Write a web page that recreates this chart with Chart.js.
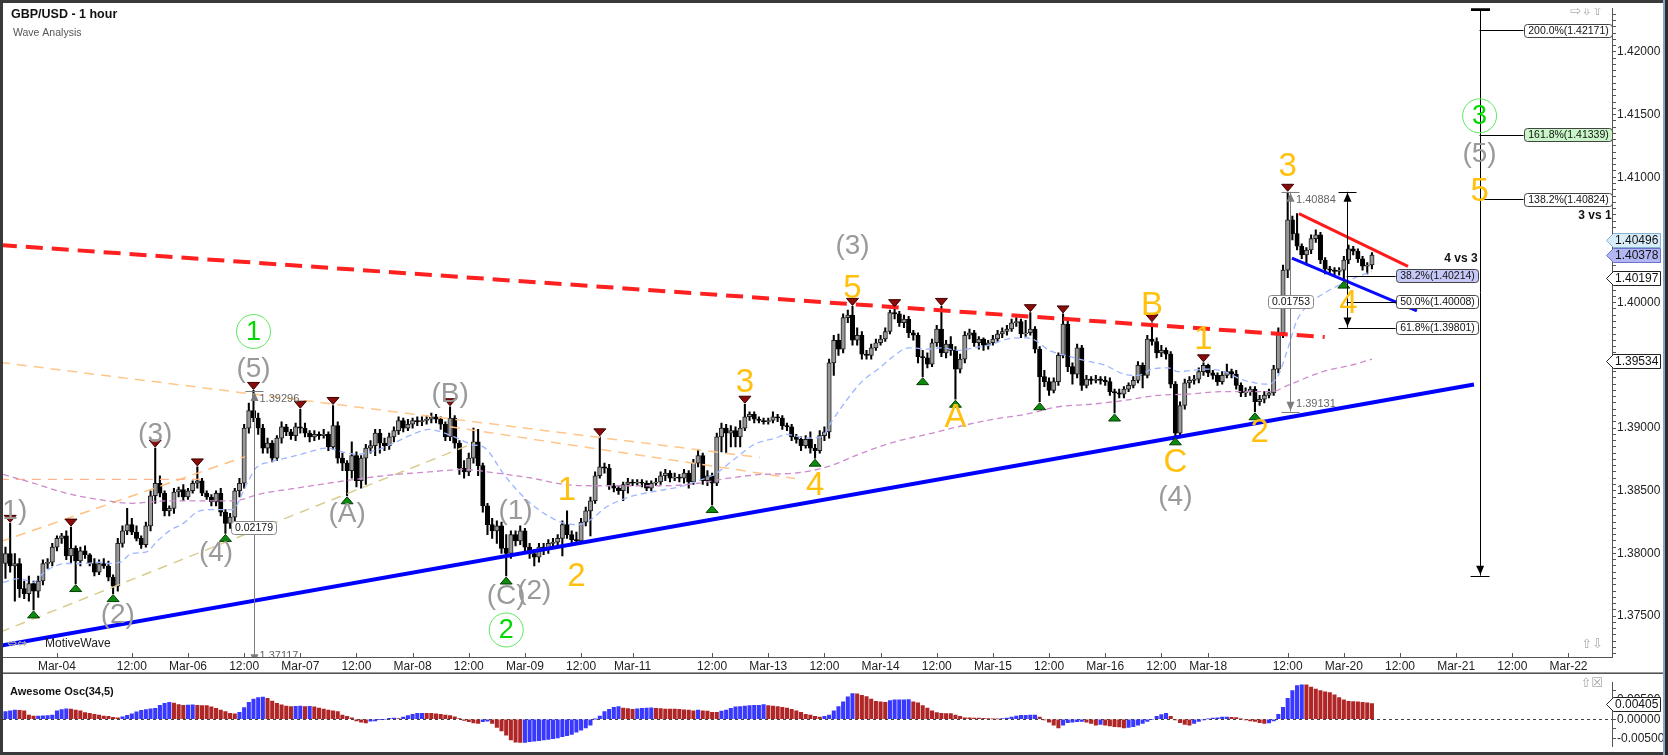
<!DOCTYPE html>
<html>
<head>
<meta charset="utf-8">
<title>GBP/USD - 1 hour</title>
<script src="https://cdn.jsdelivr.net/npm/chart.js@4.4.1/dist/chart.umd.min.js"></script>
<style>
  body { margin: 0; background: #fff; }
  #wrap { position: relative; width: 1668px; height: 755px; overflow: hidden; background: #fff; }
  canvas { position: absolute; left: 0; }
  #main { top: 0; }
  #osc { top: 674px; }
</style>
</head>
<body>
<div id="wrap">
  <canvas id="main" width="1668" height="674"></canvas>
  <canvas id="osc" width="1668" height="81"></canvas>
</div>
<script>
const FONT = 'Arial, "Liberation Sans", sans-serif';

// hourly candles [open, high, low, close], prices in 1/10000 (13792 = 1.3792)
const ohlc = [
  [13792,13805,13780,13800],[13800,13824,13785,13790],[13790,13800,13762,13792],[13792,13796,13765,13772],[13772,13778,13764,13768],
  [13768,13782,13762,13776],[13776,13778,13755,13770],[13770,13782,13765,13778],[13778,13795,13775,13792],[13792,13796,13788,13793],
  // 10
  [13793,13808,13790,13805],[13805,13814,13802,13812],[13812,13816,13808,13814],[13814,13818,13795,13798],[13798,13821,13792,13804],
  [13804,13806,13776,13794],[13794,13805,13790,13802],[13802,13806,13796,13799],[13799,13800,13790,13792],[13792,13796,13782,13785],
  // 20
  [13785,13795,13783,13792],[13792,13796,13788,13790],[13790,13794,13778,13781],[13781,13783,13768,13774],[13774,13812,13770,13808],
  [13808,13822,13805,13818],[13818,13836,13815,13823],[13823,13828,13815,13817],[13817,13822,13810,13812],[13812,13814,13804,13807],
  // 30
  [13807,13825,13805,13822],[13822,13850,13818,13846],[13846,13884,13840,13856],[13856,13862,13845,13848],[13848,13850,13830,13834],
  [13834,13838,13830,13836],[13836,13852,13832,13849],[13849,13853,13845,13851],[13851,13855,13842,13845],[13845,13852,13843,13850],
  // 40
  [13850,13858,13848,13856],[13856,13869,13852,13858],[13858,13860,13846,13848],[13848,13850,13843,13845],[13845,13847,13838,13841],
  [13841,13850,13838,13848],[13848,13852,13830,13833],[13833,13835,13816,13824],[13824,13832,13820,13829],[13829,13852,13826,13850],
  // 50
  [13850,13860,13845,13856],[13856,13903,13852,13900],[13900,13920,13896,13914],[13914,13930,13905,13908],[13908,13912,13895,13900],
  [13900,13903,13880,13884],[13884,13892,13880,13888],[13888,13890,13873,13876],[13876,13894,13874,13892],[13892,13905,13888,13901],
  // 60
  [13901,13903,13894,13897],[13897,13899,13891,13894],[13894,13904,13890,13901],[13901,13915,13896,13900],[13900,13904,13893,13896],
  [13896,13898,13889,13893],[13893,13898,13890,13895],[13895,13897,13891,13894],[13894,13899,13892,13895],[13895,13897,13882,13885],
  // 70
  [13885,13918,13883,13902],[13902,13905,13872,13876],[13876,13880,13866,13872],[13872,13874,13846,13866],[13866,13889,13860,13878],
  [13878,13881,13853,13858],[13858,13878,13852,13876],[13876,13887,13855,13884],[13884,13890,13880,13886],[13886,13899,13878,13896],
  // 80
  [13896,13899,13880,13888],[13888,13892,13882,13886],[13886,13896,13883,13893],[13893,13901,13889,13898],[13898,13909,13895,13906],
  [13906,13908,13897,13900],[13900,13907,13898,13903],[13903,13908,13900,13906],[13906,13909,13902,13905],[13905,13909,13902,13906],
  // 90
  [13906,13910,13903,13907],[13907,13912,13904,13909],[13909,13911,13904,13907],[13907,13909,13899,13903],[13903,13905,13890,13893],
  [13893,13917,13890,13908],[13908,13910,13884,13888],[13888,13890,13863,13868],[13868,13874,13860,13865],[13865,13880,13862,13876],
  // 100
  [13876,13900,13872,13889],[13889,13899,13862,13870],[13870,13872,13833,13838],[13838,13840,13815,13823],[13823,13828,13812,13818],
  [13818,13826,13808,13822],[13822,13825,13800,13804],[13804,13815,13782,13800],[13800,13818,13796,13815],[13815,13818,13806,13810],
  // 110
  [13810,13822,13807,13818],[13818,13820,13802,13805],[13805,13808,13796,13800],[13800,13803,13790,13797],[13797,13808,13793,13805],
  [13805,13808,13799,13803],[13803,13811,13800,13808],[13808,13812,13804,13809],[13809,13815,13806,13812],[13812,13826,13798,13823],
  // 120
  [13823,13834,13812,13815],[13815,13818,13808,13811],[13811,13817,13808,13810],[13810,13828,13808,13825],[13825,13837,13822,13834],
  [13834,13845,13814,13842],[13842,13865,13840,13862],[13862,13893,13860,13869],[13869,13872,13864,13868],[13868,13871,13851,13854],
  // 130
  [13854,13856,13849,13852],[13852,13854,13847,13850],[13850,13857,13842,13855],[13855,13860,13848,13857],[13857,13859,13854,13856],
  [13856,13859,13854,13857],[13857,13859,13853,13856],[13856,13858,13850,13852],[13852,13858,13850,13856],[13856,13860,13854,13857],
  // 140
  [13857,13865,13855,13862],[13862,13867,13858,13864],[13864,13866,13857,13860],[13860,13864,13858,13861],[13861,13863,13857,13860],
  [13860,13867,13856,13864],[13864,13866,13852,13857],[13857,13875,13855,13872],[13872,13883,13869,13878],[13878,13880,13855,13858],
  // 150
  [13858,13866,13854,13862],[13862,13864,13839,13856],[13856,13896,13854,13893],[13893,13904,13881,13900],[13900,13903,13880,13896],
  [13896,13902,13885,13898],[13898,13901,13885,13893],[13893,13906,13885,13900],[13900,13919,13898,13909],[13909,13913,13906,13911],
  // 160
  [13911,13913,13904,13907],[13907,13909,13904,13906],[13906,13908,13903,13905],[13905,13908,13903,13906],[13906,13913,13904,13909],
  [13909,13911,13905,13908],[13908,13910,13899,13902],[13902,13904,13898,13901],[13901,13903,13890,13893],[13893,13895,13888,13891],
  // 170
  [13891,13893,13882,13886],[13886,13894,13884,13891],[13891,13897,13880,13884],[13884,13887,13876,13882],[13882,13898,13880,13894],
  [13894,13901,13890,13897],[13897,13955,13892,13952],[13952,13974,13942,13970],[13970,13975,13958,13963],[13963,13991,13960,13988],
  // 180
  [13988,13994,13984,13990],[13990,13997,13966,13970],[13970,13980,13966,13974],[13974,13977,13955,13959],[13959,13962,13955,13958],
  [13958,13967,13955,13964],[13964,13971,13962,13968],[13968,13974,13966,13971],[13971,13980,13969,13977],[13977,13994,13975,13992],
  // 190
  [13992,13996,13987,13991],[13991,13993,13981,13984],[13984,13990,13980,13987],[13987,13989,13972,13976],[13976,13978,13970,13974],
  [13974,13976,13952,13957],[13957,13962,13941,13956],[13956,13960,13948,13951],[13951,13971,13949,13968],[13968,13982,13965,13979],
  // 200
  [13979,13997,13957,13960],[13960,13970,13956,13967],[13967,13973,13958,13962],[13962,13965,13923,13947],[13947,13959,13944,13955],
  [13955,13977,13952,13974],[13974,13979,13971,13976],[13976,13978,13965,13968],[13968,13973,13963,13971],[13971,13972,13962,13966],
  // 210
  [13966,13970,13963,13968],[13968,13974,13966,13971],[13971,13978,13969,13975],[13975,13980,13972,13977],[13977,13982,13974,13979],
  [13979,13987,13977,13984],[13984,13988,13981,13985],[13985,13987,13972,13975],[13975,13986,13973,13976],[13976,13992,13974,13979],
  // 220
  [13979,13981,13960,13963],[13963,13965,13921,13941],[13941,13946,13933,13937],[13937,13940,13926,13930],[13930,13940,13928,13937],
  [13937,13960,13934,13958],[13958,13991,13956,13983],[13983,13986,13945,13949],[13949,13952,13935,13943],[13943,13967,13940,13964],
  // 230
  [13964,13966,13930,13934],[13934,13942,13932,13939],[13939,13941,13935,13938],[13938,13942,13936,13939],[13939,13941,13935,13938],
  [13938,13941,13934,13937],[13937,13940,13926,13929],[13929,13931,13912,13928],[13928,13931,13924,13927],[13927,13933,13924,13931],
  // 240
  [13931,13936,13929,13934],[13934,13941,13932,13938],[13938,13953,13936,13950],[13950,13952,13932,13942],[13942,13974,13940,13971],
  [13971,13984,13966,13969],[13969,13972,13956,13960],[13960,13966,13957,13962],[13962,13964,13955,13959],[13959,13961,13932,13935],
  // 250
  [13935,13937,13893,13896],[13896,13921,13894,13918],[13918,13939,13915,13936],[13936,13941,13932,13938],[13938,13942,13935,13939],
  [13939,13948,13936,13945],[13945,13952,13942,13950],[13950,13951,13941,13944],[13944,13946,13939,13942],[13942,13944,13934,13937],
  // 260
  [13937,13945,13935,13942],[13942,13951,13940,13945],[13945,13947,13940,13943],[13943,13946,13931,13934],[13934,13936,13925,13928],
  [13928,13932,13925,13929],[13929,13933,13926,13931],[13931,13933,13913,13921],[13921,13926,13918,13923],[13923,13929,13920,13926],
  // 270
  [13926,13931,13924,13928],[13928,13950,13926,13947],[13947,13980,13944,13976],[13976,14030,13972,14026],[14026,14088,14020,14066],
  [14066,14069,14050,14055],[14055,14071,14042,14045],[14045,14047,14035,14038],[14038,14044,14030,14042],[14042,14054,14039,14051],
  // 280
  [14051,14058,14048,14054],[14054,14056,14031,14034],[14034,14036,14023,14027],[14027,14029,14023,14026],[14026,14028,14022,14025],
  [14025,14028,14022,14026],[14026,14037,14018,14034],[14034,14046,14031,14043],[14043,14045,14038,14041],[14041,14043,14032,14035],
  // 290
  [14035,14037,14026,14029],[14029,14032,14023,14030],[14030,14040,14027,14038]
];

// Awesome Osc(34,5), one value per candle, in 1/10000
const aoValues = [
  20,22,24,23,22,11,8,8.5,9,9.5,
  11,22,25,27,26,24,22,17,15,13,
  11,8.5,7.5,5,4,6.5,10,14,19,23,
  25,27,28,36,41,44,42,38,36,36.5,
  37,36,35.5,35,32,28,24,20,15,14,
  18,30,44,52,56,57,54,47,41,37,
  34,33,33.5,34,33,33.5,32,29,26,24,
  22,20,11,7.5,4,-4,-7.5,-9.5,-5,-4,
  -1,0,2.5,3,2,5.5,9.5,13,15,15.5,
  15.2,15,14,13,11,9.5,6.5,2,-3,-6.5,
  -9.5,-11,-6,-5,-11,-21,-30,-41,-53,-59,
  -60,-59.5,-58,-56.5,-55,-53,-52,-50,-48,-45,
  -42,-39,-33,-28,-22,-15,0.5,8.5,20,25.5,
  31,33,29,27.5,25.5,27,28,29,29.5,28.5,
  27.5,26.5,26.3,26.1,25.5,24.5,23.5,22,23.5,22,
  21,18,17.8,21,23.5,28,32,33,34,35,
  35.8,36,38,35,34,33,31,29,25.5,22,
  18,13,10.5,7.5,5.5,7.5,11,22,33,45,
  58,66,65.5,62,58.5,52,46,45,44,48,
  50,50.2,50.4,50.6,45,42.5,35,29,22,17,
  15,14.8,14.6,11,7.5,4,3.8,3,2.8,2.6,
  2,1,0.8,2,3,5.5,8.5,10,10.3,10.5,
  10.6,5.5,-2,-7.5,-15,-22,-15,-8.5,-7.5,-6,
  -5.5,-7.5,-11,-15,-13,-15,-17,-19,-20,-22,
  -21,-19,-15,-11,-5.5,0,7.5,12,15,7.5,
  -2,-8.5,-13,-15,-11,-5.5,-2,1,3,4,
  5.5,5.8,5,4.5,1,-2,-4,-5.5,-8.5,-10.5,
  -9.5,-4,13,31,54,74,87,89,88.5,83,
  78,74,71,69,63,56,50,46,45.5,45,
  44,42.5,40.5
];

// moving averages: [bar, price/10000]
const fastMa = [
  [-0.5,13777],[3,13780],[6,13777],[8,13784],[10,13789],[13,13792],[17,13792],[20,13793],[22,13792],[24.5,13793],
  [27,13800],[30,13801],[32.5,13810],[35,13818],[38,13824],[41.5,13834],[45,13835],[48.5,13835],[51.5,13855],[53.5,13868],
  [56.5,13873],[61,13877],[65,13881],[68.5,13884],[72,13881],[75,13879],[78,13881],[80.5,13884],[83.5,13889],[87,13895],
  [90.5,13899],[93,13897],[96.5,13892],[99.5,13887],[102.5,13884],[106.5,13863],[111,13844],[115.5,13831],[119.5,13824],[122.5,13823],
  [125.5,13828],[128,13836],[132.5,13844],[136.5,13848],[141,13851],[145,13854],[148,13858],[151.5,13863],[156,13876],[160,13887],
  [164.5,13892],[167,13895],[171,13892],[174.5,13893],[176.5,13905],[179.5,13921],[183,13937],[186.5,13947],[190,13958],[193,13964],
  [197,13963],[200,13964],[203.5,13962],[207,13964],[211,13967],[214,13971],[218,13972],[220,13970],[223,13962],[226.5,13958],
  [230.5,13954],[235,13950],[239,13943],[242,13942],[245,13947],[248.5,13948],[250.5,13945],[253.5,13946],[257,13947],[260.5,13945],
  [264,13939],[267,13936],[270,13935],[272,13942],[274,13963],[276,13986],[279,14000],[282,14008],[284.5,14013],[288.5,14020],[292,14025]
];
const slowMa = [
  [-0.5,13863],[6,13856],[13,13848],[20,13843],[27,13840],[34.5,13842],[48.5,13842],[55,13848],[62,13852],[69,13856],
  [76.5,13860],[83.5,13863],[90.5,13865],[98,13867],[105,13864],[112.5,13860],[119.5,13855],[126.5,13854],[141,13854],[148,13856],
  [154.5,13860],[161.5,13863],[168.5,13864],[175.5,13869],[183,13880],[190,13889],[197,13895],[203.5,13901],[211,13907],[218,13911],
  [225,13917],[232,13919],[239,13922],[246,13926],[252.5,13927],[260,13929],[270.5,13929],[274,13934],[281.5,13945],[288.5,13951],[292,13955]
];

// time axis (bar index of each label)
const xTickPos = [11,27,39,51,63,75,87,99,111,123,134,151,163,175,187,199,211,223,235,247,257,274,286,298,310,322,334];
const xTickLabels = ['Mar-04','12:00','Mar-06','12:00','Mar-07','12:00','Mar-08','12:00','Mar-09','12:00','Mar-11','12:00','Mar-13',
  '12:00','Mar-14','12:00','Mar-15','12:00','Mar-16','12:00','Mar-18','12:00','Mar-20','12:00','Mar-21','12:00','Mar-22'];
const xMin = -0.53, xMax = 343.3;

// drawn trend lines, [bar, price/10000] end points
const redChannel = [[-1.2,14046],[281.9,13972.6]];
const blueChannel = [[-1.2,13726.4],[313.8,13934.7]];
const redWedge = [[276.4,14071],[299.7,14029]];
const blueWedge = [[274.9,14035.5],[301.6,13993.5]];
const orangeUpper = [[-1.2,13952.4],[161.2,13876.5]];
const orangeLower = [[95,13901],[168.7,13859.8]];
const orangeRising = [[-1.2,13809.2],[51.2,13877.2]];
const khakiRising = [[-1.2,13737.2],[100.3,13888.3]];
const salmonFlat = [[-1.2,13859],[43.1,13859]];

// swing markers (bar index)
const swingHighs = [1,14,32,41,53,63,70,95,127,158,181,190,200,219,226,245,256,274];
const swingLows = [6,15,23,47,73,107,151,173,196,203,221,237,250,267,286];

// wave labels [text, bar, price/10000]
const grayLabels = [['(1)',1,13834],['(2)',24,13751],['(3)',32,13895],['(4)',45,13800],['(5)',53,13947],['(A)',73,13831],
  ['(B)',95,13927],['(C)',107,13766],['(1)',109,13834],['(2)',113,13770],['(3)',181,14045],['(4)',250,13845],['(5)',315,14118]];
const orangeLabels = [['1',120,13851],['2',122,13782],['3',158,13937],['4',173,13855],['5',181,14012],['A',203,13909],
  ['B',245,13998],['C',250,13873],['1',256,13971],['2',268,13897],['3',274,14109],['4',287,14000],['5',315,14089]];
const greenCircles = [['1',53,13977],['2',107,13739],['3',315,14149]];

// measuring rulers and fib projections
const rulers = [{bar: 53, top: 1.39296, bottom: 1.37117}, {bar: 274.5, top: 1.40884, bottom: 1.39131}];
const fib31 = {bar: 315, top: 1.4234, bottom: 1.37823, levels: [['200.0%',1.42171],['161.8%',1.41339],['138.2%',1.40824]]};
const fib43 = {bar: 286.6, top: 1.40884, bottom: 1.39801, levels: [['38.2%',1.40214],['50.0%',1.40008],['61.8%',1.39801]]};

// price tags on the axis [value, fill, edge]
const priceTags = [[1.40496,'#d7ebf8','#86b2d4'],[1.40378,'#b2b6f2','#6a72cc'],[1.40197,'#ffffff','#222'],[1.39534,'#ffffff','#222']];
const aoTag = 0.00405;

const P = v => v / 10000;

// candles as floating bars
const wickData = ohlc.map((r, i) => ({x: i, y: [P(r[2]), P(r[1])]}));
const bodyData = ohlc.map((r, i) => ({x: i, y: [P(Math.min(r[0], r[3])), P(Math.max(r[0], r[3]))]}));
const bodyFill = ohlc.map(r => r[3] >= r[0] ? '#989898' : '#000');
const bodyEdge = ohlc.map(r => r[3] >= r[0] ? '#1e1e1e' : '#000');

function lineSet(pts, color, width, dash, order, smooth) {
  return {
    type: 'line',
    data: pts.map(p => ({x: p[0], y: P(p[1])})),
    borderColor: color, borderWidth: width, borderDash: dash || [],
    pointRadius: 0, fill: false, order: order,
    cubicInterpolationMode: smooth ? 'monotone' : 'default', tension: 0
  };
}

// drawing helpers
function tri(ctx, pts, fill, edge) {
  ctx.beginPath();
  ctx.moveTo(pts[0], pts[1]); ctx.lineTo(pts[2], pts[3]); ctx.lineTo(pts[4], pts[5]);
  ctx.closePath();
  ctx.fillStyle = fill; ctx.fill();
  if (edge) { ctx.strokeStyle = edge; ctx.lineWidth = 1; ctx.stroke(); }
}
function hline(ctx, x1, x2, y) {
  ctx.beginPath(); ctx.moveTo(x1, Math.round(y) + 0.5); ctx.lineTo(x2, Math.round(y) + 0.5); ctx.stroke();
}
function vline(ctx, x, y1, y2) {
  ctx.beginPath(); ctx.moveTo(Math.round(x) + 0.5, y1); ctx.lineTo(Math.round(x) + 0.5, y2); ctx.stroke();
}
function boxAt(ctx, left, cy, text, fill, edge, center) {
  ctx.font = '10.5px ' + FONT;
  const w = Math.round(ctx.measureText(text).width + 7), h = 13;
  const x0 = Math.round(center ? left - w / 2 : left) + 0.5, y0 = Math.round(cy - h / 2) + 0.5;
  ctx.beginPath();
  ctx.roundRect(x0, y0, w, h, 3);
  ctx.fillStyle = fill; ctx.fill();
  ctx.strokeStyle = edge; ctx.lineWidth = 1; ctx.stroke();
  ctx.fillStyle = '#111'; ctx.textAlign = 'center'; ctx.textBaseline = 'middle';
  ctx.fillText(text, x0 + w / 2, y0 + h / 2 + 0.5);
  return w;
}
function ruler(ctx, xp, yA, yB, color) {
  const xc = Math.round(xp) + 0.5;
  ctx.strokeStyle = color; ctx.lineWidth = 1;
  vline(ctx, xp, yA, yB);
  hline(ctx, xc - 9, xc + 9, yA);
  hline(ctx, xc - 9, xc + 9, yB);
  tri(ctx, [xc, yA + 1, xc - 4, yA + 10, xc + 4, yA + 10], color);
  tri(ctx, [xc, yB - 1, xc - 4, yB - 10, xc + 4, yB - 10], color);
}
function axisTag(ctx, right, yp, text, fill, edge) {
  const y0 = Math.round(yp) + 0.5, x0 = right - 5.5, x1 = right + 1.5, x2 = right + 48.5;
  ctx.beginPath();
  ctx.moveTo(x0, y0); ctx.lineTo(x1, y0 - 7); ctx.lineTo(x2, y0 - 7); ctx.lineTo(x2, y0 + 7); ctx.lineTo(x1, y0 + 7);
  ctx.closePath();
  ctx.fillStyle = fill; ctx.fill();
  ctx.strokeStyle = edge; ctx.lineWidth = 1; ctx.stroke();
  ctx.font = '12px ' + FONT; ctx.fillStyle = '#111'; ctx.textAlign = 'left'; ctx.textBaseline = 'middle';
  ctx.fillText(text, right + 3, y0 + 0.5);
}
const isMajor = v => Math.abs(v * 200 - Math.round(v * 200)) < 1e-6;
const fmt = v => Math.abs(v) < 1e-9 ? '0.00000' : v.toFixed(5);

const mainOverlay = {
  id: 'mainOverlay',
  beforeDraw(chart) {
    const {ctx, width, height} = chart;
    ctx.save(); ctx.fillStyle = '#fff'; ctx.fillRect(0, 0, width, height); ctx.restore();
  },
  afterDatasetsDraw(chart) {
    const {ctx, chartArea: a, scales: {x, y}} = chart;
    const X = b => x.getPixelForValue(b), Y = v => y.getPixelForValue(v);
    ctx.save();
    ctx.beginPath(); ctx.rect(a.left, a.top, a.right - a.left, a.bottom - a.top); ctx.clip();

    // swing markers
    swingHighs.forEach(b => {
      const xp = X(b), yp = Y(P(ohlc[b][1]));
      tri(ctx, [xp, yp - 1, xp - 6, yp - 8, xp + 6, yp - 8], '#8b0a0a', '#3b0000');
    });
    swingLows.forEach(b => {
      const xp = X(b), yp = Y(P(ohlc[b][2]));
      tri(ctx, [xp, yp + 1, xp - 6, yp + 8, xp + 6, yp + 8], '#0d8a0d', '#053d05');
    });

    // gray measuring rulers
    rulers.forEach(m => {
      const xp = X(m.bar), yA = Y(m.top), yB = Y(m.bottom);
      ruler(ctx, xp, yA, yB, '#7c7c7c');
      ctx.font = '11px ' + FONT; ctx.fillStyle = '#666'; ctx.textAlign = 'left'; ctx.textBaseline = 'middle';
      ctx.fillText(m.top.toFixed(5), xp + 6, yA + 8);
      ctx.fillText(m.bottom.toFixed(5), xp + 6, yB - 8);
      boxAt(ctx, xp, (yA + yB) / 2, (m.top - m.bottom).toFixed(5), '#fff', '#888', true);
    });

    // fib projection "3 vs 1"
    ctx.strokeStyle = '#000'; ctx.lineWidth = 1;
    let fx = X(fib31.bar);
    const yTop = Y(fib31.top), yBot = Y(fib31.bottom);
    vline(ctx, fx, yTop, yBot);
    ctx.fillStyle = '#000';
    ctx.fillRect(Math.round(fx) - 9, Math.round(yTop) - 1, 19, 3);
    hline(ctx, fx - 9, fx + 10, yBot);
    tri(ctx, [Math.round(fx) + 0.5, yBot - 1, fx - 3.5, yBot - 10, fx + 4.5, yBot - 10], '#000');
    let boxRight = 0;
    fib31.levels.forEach(([pct, v]) => {
      const yp = Y(v);
      ctx.strokeStyle = '#000';
      hline(ctx, fx, fx + 44, yp);
      const w = boxAt(ctx, fx + 44, yp, pct + '(' + v.toFixed(5) + ')', pct === '161.8%' ? '#c9f5c9' : '#fff', '#444');
      boxRight = Math.max(boxRight, fx + 44 + w);
    });
    ctx.font = 'bold 12px ' + FONT; ctx.fillStyle = '#111'; ctx.textAlign = 'right'; ctx.textBaseline = 'middle';
    ctx.fillText('3 vs 1', boxRight, Y(fib31.levels[2][1]) + 16);

    // fib retracement "4 vs 3"
    fx = X(fib43.bar);
    ruler(ctx, fx, Y(fib43.top), Y(fib43.bottom), '#000');
    boxRight = 0;
    fib43.levels.forEach(([pct, v]) => {
      const yp = Y(v);
      ctx.strokeStyle = '#000';
      hline(ctx, fx, fx + 49, yp);
      const w = boxAt(ctx, fx + 49, yp, pct + '(' + v.toFixed(5) + ')', pct === '38.2%' ? '#c6c9f7' : '#fff', '#444');
      boxRight = Math.max(boxRight, fx + 49 + w);
    });
    ctx.font = 'bold 12px ' + FONT; ctx.fillStyle = '#111'; ctx.textAlign = 'right'; ctx.textBaseline = 'middle';
    ctx.fillText('4 vs 3', boxRight, Y(fib43.levels[0][1]) - 17);

    // wave labels
    ctx.textAlign = 'center'; ctx.textBaseline = 'middle';
    ctx.font = '28px ' + FONT; ctx.fillStyle = '#9a9a9a';
    grayLabels.forEach(([t, b, p]) => ctx.fillText(t, X(b), Y(P(p))));
    ctx.font = '33px ' + FONT; ctx.fillStyle = '#ffc10e';
    orangeLabels.forEach(([t, b, p]) => ctx.fillText(t, X(b), Y(P(p)) + 1));
    greenCircles.forEach(([t, b, p]) => {
      const xp = X(b), yp = Y(P(p));
      ctx.beginPath(); ctx.arc(xp, yp, 17, 0, Math.PI * 2);
      ctx.strokeStyle = '#5ee85e'; ctx.lineWidth = 1; ctx.stroke();
      ctx.font = '27px ' + FONT; ctx.fillStyle = '#00d800';
      ctx.fillText(t, xp, yp + 1);
    });

    // header, watermark, small icons
    ctx.textAlign = 'left';
    ctx.font = 'bold 12.5px ' + FONT; ctx.fillStyle = '#111';
    ctx.fillText('GBP/USD - 1 hour', 11, 15);
    ctx.font = '10.5px ' + FONT; ctx.fillStyle = '#555';
    ctx.fillText('Wave Analysis', 13, 33);
    ctx.font = '12px "DejaVu Sans", sans-serif'; ctx.fillStyle = '#aaa';
    ctx.fillText('\u21D4\u21D4', 7, a.bottom - 13);
    ctx.font = '12px ' + FONT; ctx.fillStyle = '#222';
    ctx.fillText('MotiveWave', 45, a.bottom - 13);
    ctx.font = '13px "DejaVu Sans", sans-serif'; ctx.fillStyle = '#aaa'; ctx.textAlign = 'right';
    ctx.fillText('\u21E8\u21E9\u21E7', a.right - 9, 12);
    ctx.fillText('\u21E7\u21E9', a.right - 9, a.bottom - 12);

    // time ticks pointing into the plot
    ctx.strokeStyle = '#555'; ctx.lineWidth = 1;
    xTickPos.forEach(b => vline(ctx, X(b), a.bottom - 4, a.bottom));
    ctx.restore();
  },
  afterDraw(chart) {
    const {ctx, chartArea: a, scales: {y}, width, height} = chart;
    ctx.save();
    priceTags.forEach(([v, fill, edge]) => axisTag(ctx, a.right, y.getPixelForValue(v), v.toFixed(5), fill, edge));
    // window frame
    ctx.fillStyle = '#3a3a3a';
    ctx.fillRect(0, 0, width, 3);
    ctx.fillRect(0, 0, 3, height);
    ctx.fillStyle = '#8aa6c8'; ctx.fillRect(width - 5, 0, 2, height);
    ctx.fillStyle = '#2c2c2c'; ctx.fillRect(width - 3, 0, 3, height);
    ctx.fillStyle = '#9a9a9a'; ctx.fillRect(3, height - 2, width - 8, 1);
    ctx.fillStyle = '#555'; ctx.fillRect(3, height - 1, width - 8, 1);
    ctx.restore();
  }
};

new Chart(document.getElementById('main'), {
  type: 'bar',
  data: {
    datasets: [
      {label: 'wicks', data: wickData, backgroundColor: '#000', barThickness: 1.4, grouped: false, order: 20},
      {label: 'bodies', data: bodyData, backgroundColor: bodyFill, borderColor: bodyEdge, borderWidth: 1,
        borderSkipped: false, barThickness: 4.4, minBarLength: 1, grouped: false, order: 19},
      lineSet(salmonFlat, '#ffb48c', 1.3, [9, 7], 12),
      lineSet(orangeUpper, '#ffc68c', 1.5, [10, 7], 12),
      lineSet(orangeLower, '#ffc68c', 1.5, [10, 7], 12),
      lineSet(orangeRising, '#ffc080', 1.5, [10, 7], 12),
      lineSet(khakiRising, '#d8cd90', 1.5, [10, 7], 12),
      lineSet(slowMa, '#cc8bcc', 1.3, [6, 4], 10, true),
      lineSet(fastMa, '#9db6ff', 1.3, [6, 4], 10, true),
      lineSet(redChannel, '#ff2020', 4, [17, 9], 5),
      lineSet(blueChannel, '#0000ff', 4, [], 5),
      lineSet(redWedge, '#ff1a1a', 3, [], 5),
      lineSet(blueWedge, '#0a0aff', 3, [], 5)
    ]
  },
  options: {
    responsive: false, animation: false, events: [],
    layout: {padding: {left: 3, top: 3, right: 0, bottom: 0}},
    plugins: {legend: {display: false}, tooltip: {enabled: false}},
    scales: {
      x: {
        type: 'linear', min: xMin, max: xMax, offset: false,
        afterBuildTicks: s => { s.ticks = xTickPos.map(v => ({value: v})); },
        ticks: {autoSkip: false, maxRotation: 0, padding: 2, color: '#222', font: {size: 12, family: FONT},
          callback: v => xTickLabels[xTickPos.indexOf(v)] || ''},
        grid: {display: true, drawOnChartArea: false, drawTicks: false, offset: false},
        border: {display: true, color: '#555'},
        afterFit: s => { s.height = 17; }
      },
      y: {
        type: 'linear', position: 'right', min: 1.371743, max: 1.423481, beginAtZero: false,
        ticks: {stepSize: 0.0005, autoSkip: false, includeBounds: false, padding: 1, color: '#222',
          font: {size: 12, family: FONT}, callback: v => isMajor(v) ? v.toFixed(5) : ''},
        grid: {drawOnChartArea: false, tickLength: 4, tickColor: '#555'},
        border: {display: true, color: '#555'},
        afterFit: s => { s.width = 56; }
      }
    }
  },
  plugins: [mainOverlay]
});

// oscillator panel
const aoColors = aoValues.map((v, i) => i === 0 || v > aoValues[i - 1] ? '#3838ff' : '#b02626');

const oscOverlay = {
  id: 'oscOverlay',
  beforeDraw(chart) {
    const {ctx, width, height} = chart;
    ctx.save(); ctx.fillStyle = '#fff'; ctx.fillRect(0, 0, width, height); ctx.restore();
  },
  beforeDatasetsDraw(chart) {
    const {ctx, chartArea: a, scales: {y}} = chart;
    ctx.save();
    ctx.strokeStyle = '#444'; ctx.lineWidth = 1; ctx.setLineDash([3, 3]);
    hline(ctx, a.left, a.right, y.getPixelForValue(0));
    ctx.restore();
  },
  afterDraw(chart) {
    const {ctx, chartArea: a, scales: {y}, width, height} = chart;
    ctx.save();
    ctx.font = 'bold 11px ' + FONT; ctx.fillStyle = '#111'; ctx.textAlign = 'left'; ctx.textBaseline = 'middle';
    ctx.fillText('Awesome Osc(34,5)', 10, 18);
    ctx.font = '13px "DejaVu Sans", sans-serif'; ctx.fillStyle = '#aaa'; ctx.textAlign = 'right';
    ctx.fillText('\u21E7\u2612', a.right - 9, 10);
    axisTag(ctx, a.right, y.getPixelForValue(aoTag), fmt(aoTag), '#fff', '#222');
    ctx.fillStyle = '#3a3a3a';
    ctx.fillRect(0, 0, 3, height);
    ctx.fillRect(0, height - 3, width, 3);
    ctx.fillStyle = '#8aa6c8'; ctx.fillRect(width - 5, 0, 2, height);
    ctx.fillStyle = '#2c2c2c'; ctx.fillRect(width - 3, 0, 3, height);
    ctx.restore();
  }
};

new Chart(document.getElementById('osc'), {
  type: 'bar',
  data: {
    datasets: [{
      label: 'Awesome Osc',
      data: aoValues.map((v, i) => ({x: i, y: v / 10000})),
      backgroundColor: aoColors, borderWidth: 0, barThickness: 3.4, grouped: false
    }]
  },
  options: {
    responsive: false, animation: false, events: [],
    layout: {padding: {left: 3, top: 2, right: 0, bottom: 4}},
    plugins: {legend: {display: false}, tooltip: {enabled: false}},
    scales: {
      x: {type: 'linear', min: xMin, max: xMax, offset: false, display: false},
      y: {
        type: 'linear', position: 'right', min: -0.0071, max: 0.00956, beginAtZero: false,
        ticks: {stepSize: 0.0025, autoSkip: false, includeBounds: false, padding: 1, color: '#222',
          font: {size: 12, family: FONT}, callback: v => isMajor(v) ? fmt(v) : ''},
        grid: {drawOnChartArea: false, tickLength: 4, tickColor: '#555'},
        border: {display: true, color: '#555'},
        afterFit: s => { s.width = 56; }
      }
    }
  },
  plugins: [oscOverlay]
});
</script>
</body>
</html>
